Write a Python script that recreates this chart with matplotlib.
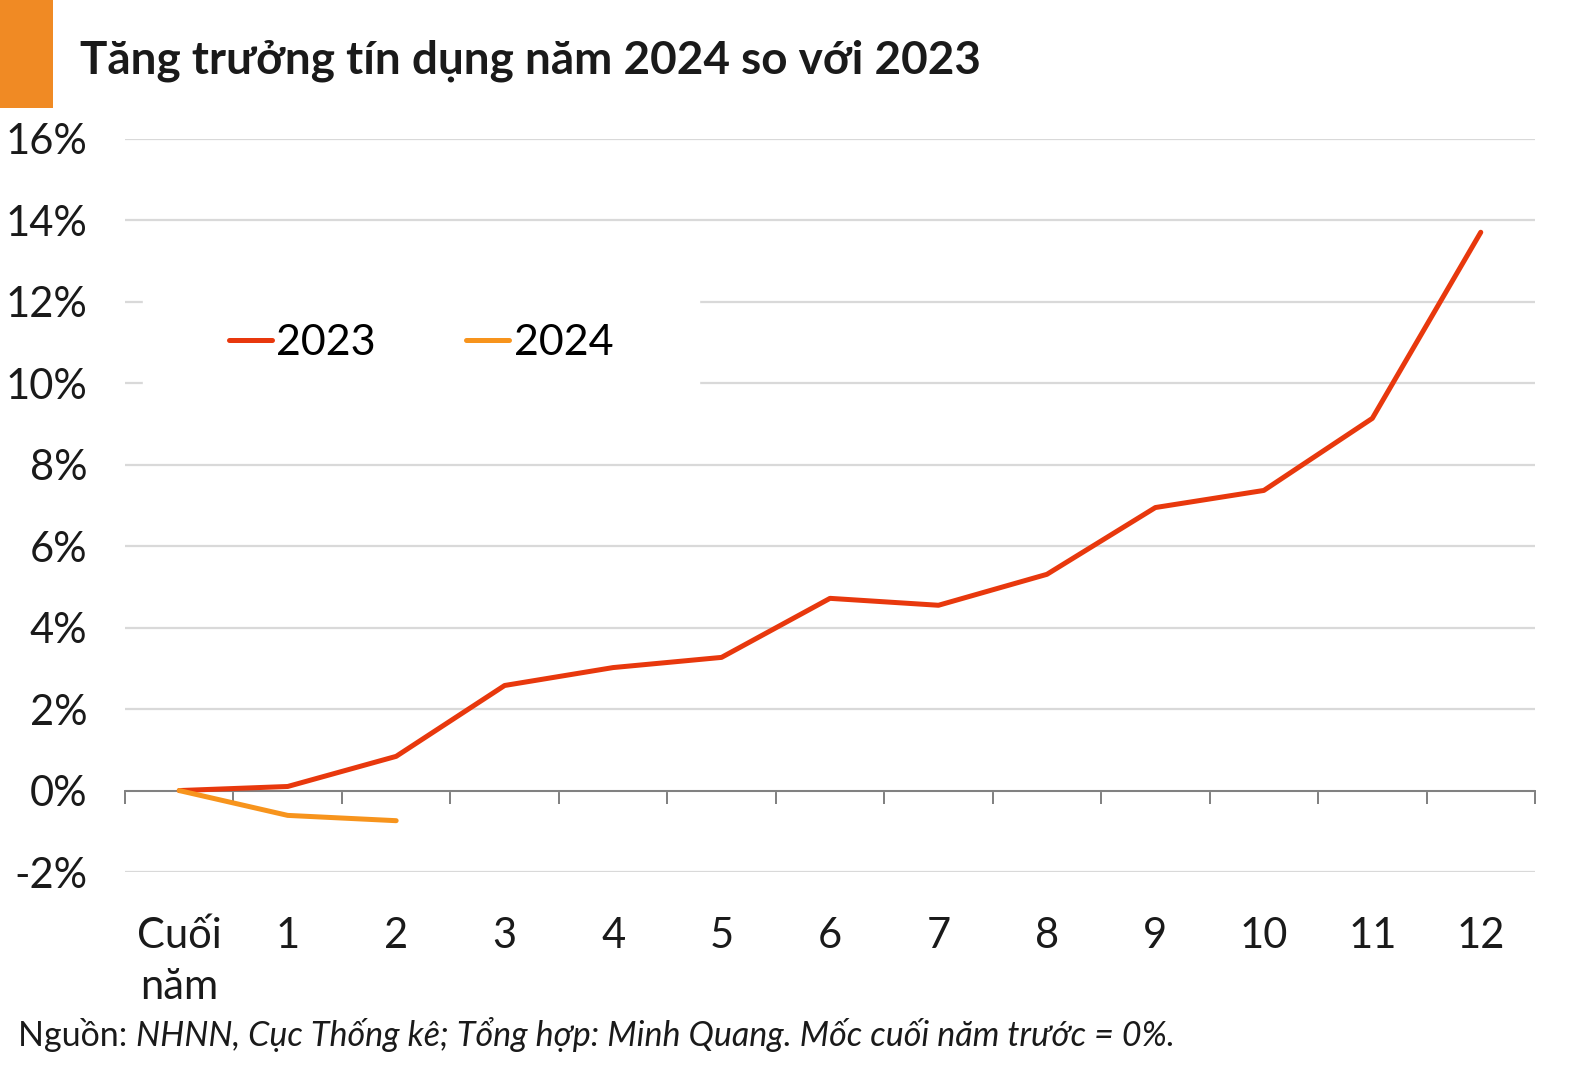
import numpy as np
import matplotlib
matplotlib.use('Agg')
import matplotlib.pyplot as plt
from matplotlib.patches import Rectangle

plt.rcParams['font.family'] = ['Lato', 'DejaVu Sans']

# data (% growth vs end of previous year)
categories = ['Cuối\nnăm', '1', '2', '3', '4', '5', '6', '7', '8', '9', '10', '11', '12']
growth_2023 = [0.0, 0.10, 0.84, 2.58, 3.02, 3.27, 4.72, 4.55, 5.31, 6.95, 7.37, 9.14, 13.71]
growth_2024 = [0.0, -0.61, -0.74]
yticks = [-2, 0, 2, 4, 6, 8, 10, 12, 14, 16]

title = 'Tăng trưởng tín dụng năm 2024 so với 2023'
source_head = 'Nguồn: '
source_body = 'NHNN, Cục Thống kê; Tổng hợp: Minh Quang. Mốc cuối năm trước = 0%.'

c2023 = '#E8380D'
c2024 = '#F7941D'

fig = plt.figure(figsize=(15.75, 10.75), dpi=100)
ax = fig.add_axes([125/1575, 1-872/1075, 1410/1575, 733/1075])

x = np.arange(len(categories))
ax.plot(x, growth_2023, color=c2023, lw=3.6, label='2023', solid_capstyle='round', zorder=3)
ax.plot(x[:len(growth_2024)], growth_2024, color=c2024, lw=3.6, label='2024',
        solid_capstyle='round', zorder=3)

ax.set_xlim(-0.5, len(categories) - 0.5)
ax.set_ylim(-2, 16)
ax.set_yticks(yticks)
ax.set_yticklabels(['%d%%' % v for v in yticks], fontsize=30, color='#1a1a1a')
ax.tick_params(axis='y', length=0, pad=27)
ax.grid(axis='y', color='#D9D9D9', lw=1.6)
ax.set_axisbelow(True)

for s in ['top', 'right', 'left']:
    ax.spines[s].set_visible(False)
ax.spines['bottom'].set_position(('data', 0))
ax.spines['bottom'].set_color('#7F7F7F')
ax.spines['bottom'].set_linewidth(1.4)
ax.set_xticks(np.arange(-0.5, len(categories), 1.0))
ax.set_xticklabels([])
ax.tick_params(axis='x', direction='out', length=9, width=1.4, color='#7F7F7F')

trans = ax.get_xaxis_transform()
for i, lab in enumerate(categories):
    ax.text(i, -0.0615, lab, transform=trans, ha='center', va='top', fontsize=30,
            color='#1a1a1a', linespacing=1.42)

leg = ax.legend(loc='center', bbox_to_anchor=(0.21, 0.7215), ncol=2, fontsize=31,
                frameon=True, borderpad=2.0, handlelength=1.0, handletextpad=0.1,
                columnspacing=2.1, fancybox=False)
leg.get_frame().set_edgecolor('white')
leg.get_frame().set_facecolor('white')
leg.get_frame().set_alpha(1)
for line in leg.get_lines():
    line.set_linewidth(3.6)

# header
fig.patches.append(Rectangle((0, 1-108/1075), 53/1575, 108/1075, transform=fig.transFigure,
                             facecolor='#F08A24', edgecolor='none'))
fig.text(80/1575, 1-73/1075, title, fontsize=33, fontweight='bold', color='#1a1a1a',
         va='baseline', ha='left')

# source line
t1 = fig.text(18/1575, 1-1046/1075, source_head, fontsize=24.5, color='#1a1a1a', va='baseline')
fig.canvas.draw()
bb = t1.get_window_extent(fig.canvas.get_renderer())
fig.text(bb.x1/1575, 1-1046/1075, source_body, fontsize=24.5, style='italic',
         color='#1a1a1a', va='baseline')

fig.savefig('out.png', dpi=100)
